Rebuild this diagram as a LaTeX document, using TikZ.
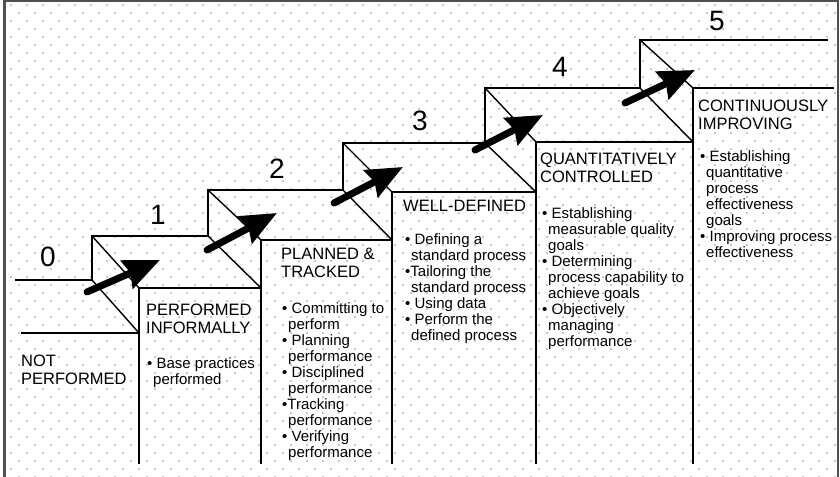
\documentclass[tikz,border=0pt]{standalone}
\usepackage{fontspec}
\setmainfont{Liberation Sans}
\usetikzlibrary{arrows.meta}
\definecolor{dotgray}{RGB}{200,200,200}
\definecolor{framegray}{RGB}{80,80,80}
\begin{document}
\begin{tikzpicture}[x=1bp,y=-1bp,
  stair/.style={line width=2bp, black, line cap=rect, line join=miter},
  diag/.style={line width=1.4bp, black},
  bigarrow/.style={line width=7bp, black, line cap=round, -{Stealth[length=36bp,width=30bp,inset=4bp]}},
  head/.style={font=\fontsize{16.5bp}{18bp}\selectfont, align=left, anchor=north west, inner sep=0pt},
  body/.style={font=\fontsize{15bp}{16bp}\selectfont, align=left, anchor=north west, inner sep=0pt},
  num/.style={font=\fontsize{28bp}{30bp}\selectfont, inner sep=0pt, anchor=center}]
\useasboundingbox (0,0) rectangle (840,477);
\fill[white] (0,0) rectangle (840,477);
% dotted grid
\foreach \j in {0,...,59}{
  \foreach \i in {0,...,52}{
    \fill[dotgray] ({10.3+16*\i+8*mod(\j,2)},{4.3+8*\j}) rectangle +(1.5,1.5);
  }
}
% frame
\draw[framegray, line width=2.5bp] (4.5,477) -- (4.5,1.2) -- (838,1.2) -- (838,477);
% staircase coordinates
\coordinate (L0) at (16,280);
\coordinate (S1b) at (92,280);  \coordinate (S1t) at (92,236);
\coordinate (S2b) at (208,236); \coordinate (S2t) at (208,190);
\coordinate (S3b) at (343,190); \coordinate (S3t) at (343,143);
\coordinate (S4b) at (485,143); \coordinate (S4t) at (485,88);
\coordinate (S5b) at (640,88);  \coordinate (S5t) at (640,40);
\coordinate (L5) at (827,40);
\coordinate (C0l) at (22,333);
\coordinate (C1t) at (139,288); \coordinate (C1m) at (139,333); \coordinate (C1f) at (139,463);
\coordinate (C2t) at (261,240); \coordinate (C2m) at (261,288); \coordinate (C2f) at (261,463);
\coordinate (C3t) at (392,192); \coordinate (C3m) at (392,240); \coordinate (C3f) at (392,463);
\coordinate (C4t) at (536,142); \coordinate (C4m) at (536,192); \coordinate (C4f) at (536,463);
\coordinate (C5t) at (693,88);  \coordinate (C5m) at (693,142); \coordinate (C5f) at (693,463);
\coordinate (C5r) at (833,88);
% treads and risers
\draw[stair] (L0) -- (S1b) -- (S1t) -- (S2b) -- (S2t) -- (S3b) -- (S3t) -- (S4b) -- (S4t) -- (S5b) -- (S5t) -- (L5);
% columns
\draw[stair] (C0l) -- (C1m);
\draw[stair] (C1f) -- (C1t) -- (C2m);
\draw[stair] (C2f) -- (C2t) -- (C3m);
\draw[stair] (C3f) -- (C3t) -- (C4m);
\draw[stair] (C4f) -- (C4t) -- (C5m);
\draw[stair] (C5f) -- (C5t) -- (C5r);
% diagonals
\draw[diag] (S1t) -- (C1t); \draw[diag] (S1b) -- (C1m);
\draw[diag] (S2t) -- (C2t); \draw[diag] (S2b) -- (C2m);
\draw[diag] (S3t) -- (C3t); \draw[diag] (S3b) -- (C3m);
\draw[diag] (S4t) -- (C4t); \draw[diag] (S4b) -- (C4m);
\draw[diag] (S5t) -- (C5t); \draw[diag] (S5b) -- (C5m);
% arrows
\coordinate (A1s) at (87,292);  \coordinate (A1e) at (160,260);
\coordinate (A2s) at (207,250); \coordinate (A2e) at (277,213);
\coordinate (A3s) at (334,203); \coordinate (A3e) at (403,167);
\coordinate (A4s) at (475,150); \coordinate (A4e) at (543,115);
\coordinate (A5s) at (625,103); \coordinate (A5e) at (695,70);
\draw[bigarrow] (A1s) -- (A1e);
\draw[bigarrow] (A2s) -- (A2e);
\draw[bigarrow] (A3s) -- (A3e);
\draw[bigarrow] (A4s) -- (A4e);
\draw[bigarrow] (A5s) -- (A5e);
% level numbers
\node[num] (n0) at (48,257) {0};
\node[num] (n1) at (158,215) {1};
\node[num] (n2) at (277,169) {2};
\node[num] (n3) at (420,121) {3};
\node[num] (n4) at (560,67) {4};
\node[num] (n5) at (717,21) {5};
% headings
\node[head] (h0) at (21,355) {NOT\\PERFORMED};
\node[head] (h1) at (146,304) {PERFORMED\\INFORMALLY};
\node[head] (h2) at (281,248) {PLANNED \&\\TRACKED};
\node[head] (h3) at (403,200) {WELL-DEFINED};
\node[head] (h4) at (540,153) {QUANTITATIVELY\\CONTROLLED};
\node[head] (h5) at (698,100) {CONTINUOUSLY\\IMPROVING};
% bodies
\node[body] (b1) at (147,357) {\textbullet\ Base practices\\\hspace*{6bp}performed};
\node[body] (b2) at (282,302) {\textbullet\ Committing to\\\hspace*{6bp}perform\\\textbullet\ Planning\\\hspace*{6bp}performance\\\textbullet\ Disciplined\\\hspace*{6bp}performance\\\textbullet Tracking\\\hspace*{6bp}performance\\\textbullet\ Verifying\\\hspace*{6bp}performance};
\node[body] (b3) at (405,233) {\textbullet\ Defining a\\\hspace*{6bp}standard process\\\textbullet Tailoring the\\\hspace*{6bp}standard process\\\textbullet\ Using data\\\textbullet\ Perform the\\\hspace*{6bp}defined process};
\node[body] (b4) at (542,207) {\textbullet\ Establishing\\\hspace*{6bp}measurable quality\\\hspace*{6bp}goals\\\textbullet\ Determining\\\hspace*{6bp}process capability to\\\hspace*{6bp}achieve goals\\\textbullet\ Objectively\\\hspace*{6bp}managing\\\hspace*{6bp}performance};
\node[body] (b5) at (700,150) {\textbullet\ Establishing\\\hspace*{6bp}quantitative\\\hspace*{6bp}process\\\hspace*{6bp}effectiveness\\\hspace*{6bp}goals\\\textbullet\ Improving process\\\hspace*{6bp}effectiveness};
\end{tikzpicture}
\end{document}
